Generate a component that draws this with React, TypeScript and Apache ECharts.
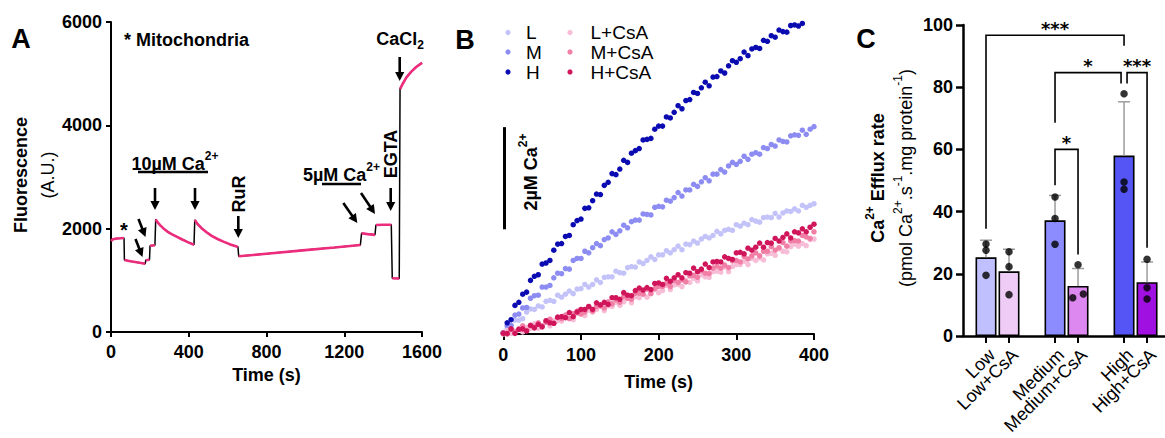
import React, { useEffect, useRef } from "react";
import * as echarts from "echarts";

const FONT = "'Liberation Sans', Arial, Helvetica, sans-serif";
const AST_FONT = "'DejaVu Sans', sans-serif";

// ---------------- Panel A : fluorescence trace ----------------
const A_TIME = [0, 10, 30, 50, 67, 69, 100, 140, 176, 179, 198, 201, 226, 230, 240, 255, 270, 290, 312, 340, 364, 395, 427, 431, 445, 466, 490, 518, 548, 578, 610, 646, 653, 657, 800, 1000, 1150, 1283, 1289, 1320, 1358, 1363, 1400, 1442, 1447, 1483, 1487, 1500, 1520, 1545, 1570, 1600];
const A_FLUOR = [1760, 1795, 1810, 1815, 1820, 1395, 1370, 1345, 1320, 1390, 1400, 1670, 1680, 2180, 2120, 2060, 2005, 1945, 1896, 1840, 1795, 1740, 1690, 2170, 2090, 2010, 1935, 1860, 1800, 1750, 1700, 1655, 1650, 1465, 1515, 1585, 1637, 1685, 1910, 1895, 1880, 2070, 2075, 2075, 1040, 1035, 4700, 4800, 4930, 5040, 5130, 5210];
// index i where the step i -> i+1 is an instantaneous jump (drawn black only)
const A_JUMPS = [4, 8, 10, 12, 22, 32, 37, 40, 43, 45];

// ---------------- Panel B : Ca2+ efflux scatter ----------------
const B_TIME = [0, 5, 10, 15, 20, 25, 30, 35, 40, 45, 50, 55, 60, 65, 70, 75, 80, 85, 90, 95, 100, 105, 110, 115, 120, 125, 130, 135, 140, 145, 150, 155, 160, 165, 170, 175, 180, 185, 190, 195, 200, 205, 210, 215, 220, 225, 230, 235, 240, 245, 250, 255, 260, 265, 270, 275, 280, 285, 290, 295, 300, 305, 310, 315, 320, 325, 330, 335, 340, 345, 350, 355, 360, 365, 370, 375, 380, 385, 390, 395, 400];
const B_L = [0.03, 0.10, 0.12, 0.27, 0.27, 0.30, 0.43, 0.49, 0.48, 0.55, 0.53, 0.64, 0.66, 0.64, 0.76, 0.72, 0.78, 0.84, 0.79, 0.88, 0.89, 0.97, 0.92, 0.97, 1.06, 1.01, 1.11, 1.12, 1.12, 1.23, 1.20, 1.19, 1.30, 1.32, 1.31, 1.41, 1.38, 1.44, 1.51, 1.46, 1.55, 1.55, 1.63, 1.59, 1.65, 1.72, 1.65, 1.76, 1.75, 1.82, 1.78, 1.86, 1.91, 1.88, 1.93, 2.01, 1.96, 2.03, 2.05, 2.03, 2.14, 2.11, 2.17, 2.14, 2.24, 2.21, 2.19, 2.28, 2.29, 2.28, 2.36, 2.29, 2.37, 2.41, 2.40, 2.45, 2.41, 2.52, 2.48, 2.52, 2.55];
const B_M = [0.01, 0.16, 0.17, 0.37, 0.39, 0.51, 0.52, 0.70, 0.75, 0.76, 0.92, 0.92, 0.95, 1.10, 1.19, 1.18, 1.28, 1.27, 1.44, 1.48, 1.48, 1.62, 1.59, 1.69, 1.77, 1.73, 1.85, 1.88, 2.00, 1.95, 2.02, 2.13, 2.08, 2.20, 2.23, 2.23, 2.35, 2.34, 2.33, 2.48, 2.50, 2.49, 2.62, 2.60, 2.67, 2.77, 2.70, 2.82, 2.82, 2.93, 2.89, 2.98, 3.06, 3.00, 3.13, 3.13, 3.22, 3.17, 3.29, 3.36, 3.32, 3.38, 3.48, 3.42, 3.52, 3.55, 3.52, 3.65, 3.63, 3.71, 3.68, 3.80, 3.77, 3.76, 3.88, 3.90, 3.89, 3.99, 3.91, 4.01, 4.06];
const B_H = [0.02, 0.22, 0.28, 0.56, 0.62, 0.78, 0.82, 1.05, 1.13, 1.16, 1.37, 1.39, 1.44, 1.64, 1.76, 1.77, 1.91, 1.93, 2.14, 2.22, 2.25, 2.46, 2.47, 2.61, 2.74, 2.73, 2.91, 2.97, 3.14, 3.12, 3.23, 3.40, 3.36, 3.54, 3.59, 3.63, 3.80, 3.81, 3.83, 4.01, 4.07, 4.07, 4.25, 4.23, 4.34, 4.47, 4.41, 4.57, 4.59, 4.73, 4.71, 4.82, 4.93, 4.86, 5.03, 5.04, 5.15, 5.11, 5.25, 5.35, 5.32, 5.39, 5.52, 5.45, 5.58, 5.61, 5.59, 5.75, 5.73, 5.84, 5.81, 5.95, 5.92, 5.91, 6.04, 6.05, 6.03, 6.08];
const B_LC = [0.00, 0.07, 0.01, 0.06, 0.11, 0.04, 0.12, 0.11, 0.20, 0.11, 0.15, 0.24, 0.16, 0.26, 0.26, 0.25, 0.35, 0.31, 0.28, 0.40, 0.40, 0.36, 0.47, 0.43, 0.48, 0.55, 0.46, 0.55, 0.54, 0.62, 0.56, 0.63, 0.70, 0.61, 0.73, 0.71, 0.78, 0.72, 0.81, 0.87, 0.81, 0.85, 0.95, 0.87, 0.96, 0.97, 0.93, 1.05, 1.01, 1.09, 1.04, 1.16, 1.12, 1.11, 1.22, 1.23, 1.21, 1.31, 1.22, 1.32, 1.36, 1.36, 1.42, 1.36, 1.48, 1.44, 1.49, 1.45, 1.57, 1.58, 1.54, 1.67, 1.62, 1.61, 1.71, 1.76, 1.72, 1.77, 1.73, 1.85, 1.86];
const B_MC = [0.02, 0.00, 0.09, 0.04, 0.09, 0.16, 0.07, 0.16, 0.14, 0.22, 0.16, 0.23, 0.29, 0.21, 0.32, 0.30, 0.37, 0.30, 0.40, 0.45, 0.39, 0.43, 0.53, 0.45, 0.54, 0.55, 0.51, 0.63, 0.59, 0.67, 0.62, 0.73, 0.70, 0.68, 0.80, 0.80, 0.78, 0.88, 0.79, 0.89, 0.93, 0.93, 0.99, 0.93, 1.05, 1.01, 1.06, 1.02, 1.14, 1.15, 1.11, 1.24, 1.19, 1.18, 1.29, 1.33, 1.29, 1.35, 1.30, 1.43, 1.44, 1.41, 1.52, 1.47, 1.53, 1.59, 1.53, 1.62, 1.62, 1.71, 1.64, 1.69, 1.79, 1.72, 1.82, 1.83, 1.82, 1.93, 1.90, 1.87, 2.00];
const B_HC = [0.01, 0.01, 0.10, 0.01, 0.09, 0.10, 0.06, 0.17, 0.12, 0.19, 0.14, 0.26, 0.22, 0.21, 0.33, 0.34, 0.32, 0.42, 0.34, 0.43, 0.48, 0.48, 0.54, 0.48, 0.61, 0.57, 0.62, 0.58, 0.71, 0.71, 0.68, 0.81, 0.76, 0.75, 0.85, 0.90, 0.86, 0.91, 0.87, 0.99, 1.00, 0.97, 1.09, 1.03, 1.10, 1.16, 1.10, 1.20, 1.19, 1.29, 1.22, 1.27, 1.37, 1.30, 1.41, 1.42, 1.41, 1.51, 1.48, 1.46, 1.59, 1.60, 1.57, 1.68, 1.64, 1.70, 1.78, 1.70, 1.79, 1.78, 1.87, 1.82, 1.89, 1.96, 1.88, 2.00, 1.98, 2.06, 2.00, 2.09, 2.15];
const B_NAMES = ["L", "M", "H", "L+CsA", "M+CsA", "H+CsA"];
const B_VALUES = [B_L, B_M, B_H, B_LC, B_MC, B_HC];
const B_COLORS = ["#C3C3FA", "#8C8CF2", "#0B0BB2", "#F8BDD6", "#F07EA5", "#D1155B"];
const B_SCALE = [2.05, 4.05]; // 2 µM scale bar, µM

// ---------------- Panel C : efflux rate bars ----------------
const C_CATEGORIES = ["Low", "Low+CsA", "Medium", "Medium+CsA", "High", "High+CsA"];
const C_POS = [1, 2, 4, 5, 7, 8];
const C_MEAN = [25.3, 20.8, 37.2, 16.1, 58.0, 17.3];
const C_SD = [5.5, 7.1, 8.0, 5.6, 17.3, 6.5];
const C_REPS = [
  [29.6, 27.6, 19.5],
  [27.1, 22.3, 13.3],
  [44.7, 37.8, 29.5],
  [22.9, 12.3, 13.5],
  [77.9, 49.5, 47.2],
  [24.7, 15.5, 11.9],
];
const C_JITTER = [
  [0, 0, 0],
  [0, 0, 0],
  [0, 0, 0],
  [0, -0.23, 0.23],
  [0, 0, 0],
  [0, 0, 0],
];
const C_COLORS = ["#C0C0FF", "#EECCF6", "#8C8CFF", "#DD88F0", "#5555F5", "#A010E0"];
// [x1, x2, yTop, yLeftEnd, yRightEnd]
const C_BRACKETS = [
  [1, 7, 96.7, 34.5, 93.3],
  [4, 6.87, 84.7, 68.6, 81.2],
  [7.13, 8, 84.7, 81.2, 28.4],
  [4, 5, 60, 48.5, 26.2],
];
const C_BRACKET_LABELS = ["***", "*", "***", "*"];

// ---------------- annotations (pixel layout) ----------------
const A_ARROWS = [
  [135.5, 239, 142.5, 257],
  [138.5, 219, 145.5, 237],
  [155, 188, 155, 210],
  [195, 188, 195, 210],
  [238.3, 216, 238.3, 238],
  [343.3, 203, 357.3, 223],
  [361, 193, 375, 214],
  [390.7, 188, 390.7, 211],
  [399.7, 57, 399.7, 81],
];

function arrow(a: number[]) {
  const [x1, y1, x2, y2] = a;
  const dx = x2 - x1, dy = y2 - y1;
  const len = Math.hypot(dx, dy);
  const ux = dx / len, uy = dy / len;
  const head = 9, half = 4.6;
  const bx = x2 - ux * head, by = y2 - uy * head;
  return [
    { type: "line", silent: true, shape: { x1, y1, x2: bx + ux * 1, y2: by + uy * 1 }, style: { stroke: "#000", lineWidth: 2.6 } },
    {
      type: "polygon", silent: true,
      shape: { points: [[x2, y2], [bx - uy * half, by + ux * half], [bx + uy * half, by - ux * half]] },
      style: { fill: "#000" },
    },
  ];
}

// main text bottom-aligned in a slightly taller line, superscript top-aligned
const supRich = (size: number, weight: string) => ({
  b: { fontSize: size, fontWeight: weight, fontFamily: FONT, fill: "#000", lineHeight: 23, verticalAlign: "bottom" },
  s: { fontSize: Math.round(size * 0.68), fontWeight: weight, fontFamily: FONT, fill: "#000", lineHeight: 12, verticalAlign: "top" },
});

function txt(x: number, y: number, text: string, size: number, weight = "bold", align = "center", extra: any = {}) {
  return {
    type: "text", silent: true, x, y, ...extra,
    style: { text, fontSize: size, fontWeight: weight, fontFamily: FONT, fill: "#000", align, verticalAlign: "middle" },
  };
}

function buildGraphics() {
  const g: any[] = [];
  // panel letters
  g.push(txt(21, 39, "A", 27));
  g.push(txt(465, 40, "B", 27));
  g.push(txt(866, 39, "C", 27));
  // Panel A annotations
  g.push(txt(124, 39.5, "* Mitochondria", 18, "bold", "left"));
  g.push(txt(124, 230, "*", 20));
  A_ARROWS.forEach((a) => g.push(...arrow(a)));
  g.push({
    type: "text", silent: true, x: 175, y: 161.5,
    style: { text: "{b|10µM Ca}{s|2+}", rich: supRich(18, "bold"), align: "center", verticalAlign: "middle" },
  });
  g.push({ type: "line", silent: true, shape: { x1: 138, y1: 172, x2: 208, y2: 172 }, style: { stroke: "#000", lineWidth: 2.5 } });
  g.push({
    type: "text", silent: true, x: 341.5, y: 172.5,
    style: { text: "{b|5µM Ca}{s|2+}", rich: supRich(18, "bold"), align: "center", verticalAlign: "middle" },
  });
  g.push({ type: "line", silent: true, shape: { x1: 322, y1: 184, x2: 361, y2: 184 }, style: { stroke: "#000", lineWidth: 2.5 } });
  g.push(txt(238.5, 194, "RuR", 18, "bold", "center", { rotation: Math.PI / 2 }));
  g.push(txt(391, 154, "EGTA", 18, "bold", "center", { rotation: Math.PI / 2 }));
  g.push({
    type: "text", silent: true, x: 400, y: 40,
    style: {
      text: "{b|CaCl}{d|2}",
      rich: {
        b: { fontSize: 18, fontWeight: "bold", fontFamily: FONT, fill: "#000", lineHeight: 21, verticalAlign: "top" },
        d: { fontSize: 12, fontWeight: "bold", fontFamily: FONT, fill: "#000", lineHeight: 12, verticalAlign: "bottom" },
      },
      align: "center", verticalAlign: "middle",
    },
  });
  g.push({
    type: "text", silent: true, x: 34, y: 175, rotation: Math.PI / 2,
    style: {
      text: "{b|Fluorescence}\n{n|(A.U.)}",
      rich: {
        b: { fontSize: 18, fontWeight: "bold", fontFamily: FONT, fill: "#000", lineHeight: 27 },
        n: { fontSize: 18, fontWeight: "normal", fontFamily: FONT, fill: "#000", lineHeight: 27 },
      },
      align: "center", verticalAlign: "middle",
    },
  });
  // Panel B legend
  const rowY = [32.5, 52, 72];
  B_NAMES.forEach((name, i) => {
    const col = i < 3 ? 0 : 1;
    const y = rowY[i % 3];
    g.push({ type: "circle", silent: true, shape: { cx: col ? 570 : 508, cy: y, r: 2.6 }, style: { fill: B_COLORS[i] } });
    g.push(txt(col ? 590.5 : 526, y, name, 19, "normal", "left"));
  });
  // Panel B scale label
  g.push({
    type: "text", silent: true, x: 528, y: 172, rotation: Math.PI / 2,
    style: { text: "{b|2µM Ca}{s|2+}", rich: supRich(18, "bold"), align: "center", verticalAlign: "middle" },
  });
  // Panel C y-axis title
  g.push({
    type: "text", silent: true, x: 891.5, y: 178, rotation: Math.PI / 2,
    style: {
      text: "{b|Ca}{bs|2+}{b| Efflux rate}\n{n|(pmol Ca}{ns|2+}{n|.s}{ns|-1}{n|.mg protein}{ns|-1}{n|)}",
      rich: {
        b: { fontSize: 18, fontWeight: "bold", fontFamily: FONT, fill: "#000", lineHeight: 28, verticalAlign: "middle" },
        bs: { fontSize: 12, fontWeight: "bold", fontFamily: FONT, fill: "#000", lineHeight: 12, verticalAlign: "top" },
        n: { fontSize: 18, fontWeight: "normal", fontFamily: FONT, fill: "#000", lineHeight: 28, verticalAlign: "middle" },
        ns: { fontSize: 12, fontWeight: "normal", fontFamily: FONT, fill: "#000", lineHeight: 12, verticalAlign: "top" },
      },
      align: "center", verticalAlign: "middle",
    },
  });
  return g;
}

const plain = (v: number) => String(v);
const TICK_LABEL = { color: "#000", fontSize: 18, fontWeight: "bold", fontFamily: FONT, formatter: plain };
const NAME_STYLE = { color: "#000", fontSize: 18, fontWeight: "bold", fontFamily: FONT };
const axisBase = (lw: number, tickLen: number) => ({
  axisLine: { show: true, onZero: false, lineStyle: { color: "#000", width: lw } },
  axisTick: { show: true, inside: false, length: tickLen, lineStyle: { color: "#000", width: lw } },
  splitLine: { show: false },
});

function buildOption(): any {
  const aFull = A_TIME.map((t, i) => [t, A_FLUOR[i]]);
  const aPink: any[] = [];
  A_TIME.forEach((t, i) => {
    aPink.push([t, A_FLUOR[i]]);
    if (A_JUMPS.includes(i)) aPink.push([t, "-"]);
  });

  const bSeries = B_NAMES.map((name, k) => ({
    type: "scatter",
    name,
    xAxisIndex: 1,
    yAxisIndex: 1,
    symbol: "circle",
    symbolSize: 5.5,
    itemStyle: { color: B_COLORS[k], opacity: 1 },
    data: B_VALUES[k].map((v, i) => [B_TIME[i], v]),
    silent: true,
    z: 2 + k,
    ...(k === 0
      ? {
          markLine: {
            silent: true,
            symbol: "none",
            label: { show: false },
            lineStyle: { color: "#000", width: 3, type: "solid" },
            data: [[{ coord: [1, B_SCALE[0]] }, { coord: [1, B_SCALE[1]] }]],
          },
        }
      : {}),
  }));

  const dots: number[][] = [];
  C_REPS.forEach((reps, i) => reps.forEach((v, k) => dots.push([C_POS[i] + C_JITTER[i][k], v])));

  return {
    animation: false,
    backgroundColor: "#fff",
    grid: [
      { left: 111, top: 22, width: 311, height: 310, containLabel: false, outerBoundsMode: "none" },
      { left: 503.3, top: 2, width: 310.7, height: 332, containLabel: false, outerBoundsMode: "none" },
      { left: 963, top: 25, width: 202, height: 311, containLabel: false, outerBoundsMode: "none" },
    ],
    xAxis: [
      {
        gridIndex: 0, type: "value", min: 0, max: 1600, interval: 400, ...axisBase(2, 5),
        axisLabel: { ...TICK_LABEL, margin: 11 },
        name: "Time (s)", nameLocation: "middle", nameGap: 34, nameTextStyle: NAME_STYLE,
      },
      {
        gridIndex: 1, type: "value", min: 0, max: 400, interval: 100, ...axisBase(2, 6),
        axisLabel: { ...TICK_LABEL, margin: 12 },
        name: "Time (s)", nameLocation: "middle", nameGap: 39, nameTextStyle: NAME_STYLE,
      },
      {
        gridIndex: 2, type: "value", min: 0, max: 8.78,
        axisLine: { show: true, onZero: false, lineStyle: { color: "#000", width: 2.5 } },
        axisTick: { show: true, length: 7, customValues: C_POS, lineStyle: { color: "#000", width: 2 } },
        splitLine: { show: false },
        axisLabel: { show: false },
      },
    ],
    yAxis: [
      {
        gridIndex: 0, type: "value", min: 0, max: 6000, interval: 2000, ...axisBase(2, 5),
        axisLabel: { ...TICK_LABEL, margin: 9 },
      },
      { gridIndex: 1, type: "value", min: 0, max: 6.5, show: false },
      {
        gridIndex: 2, type: "value", min: 0, max: 100, interval: 20, ...axisBase(2.5, 7),
        axisLabel: { ...TICK_LABEL, margin: 10 },
      },
    ],
    series: [
      {
        type: "line", xAxisIndex: 0, yAxisIndex: 0, data: aFull, symbol: "none", showSymbol: false,
        lineStyle: { color: "#000", width: 1.5 }, silent: true, z: 2,
      },
      {
        type: "line", xAxisIndex: 0, yAxisIndex: 0, data: aPink, symbol: "none", showSymbol: false,
        connectNulls: false, lineStyle: { color: "#EE2C7E", width: 2.6 }, silent: true, z: 3,
      },
      ...bSeries,
      {
        type: "bar", xAxisIndex: 2, yAxisIndex: 2, barWidth: 21, silent: true, z: 2,
        itemStyle: { borderColor: "#000", borderWidth: 1.6 },
        data: C_POS.map((x, i) => ({ value: [x, C_MEAN[i]], itemStyle: { color: C_COLORS[i], borderColor: "#000", borderWidth: 1.6 } })),
      },
      {
        type: "custom", xAxisIndex: 2, yAxisIndex: 2, silent: true, z: 3,
        encode: { x: 0, y: [1, 2] },
        data: C_POS.map((x, i) => [x, C_MEAN[i], C_MEAN[i] + C_SD[i]]),
        renderItem: (_p: any, api: any) => {
          const b = api.coord([api.value(0), api.value(1)]);
          const t = api.coord([api.value(0), api.value(2)]);
          return {
            type: "group",
            children: [
              { type: "line", shape: { x1: b[0], y1: b[1], x2: t[0], y2: t[1] }, style: { stroke: "#9C9C9C", lineWidth: 1.5 } },
              { type: "line", shape: { x1: t[0] - 6, y1: t[1], x2: t[0] + 6, y2: t[1] }, style: { stroke: "#9C9C9C", lineWidth: 1.5 } },
            ],
          };
        },
      },
      {
        type: "scatter", xAxisIndex: 2, yAxisIndex: 2, silent: true, z: 5,
        symbol: "circle", symbolSize: 7.5, itemStyle: { color: "#000" }, data: dots,
      },
      {
        type: "custom", xAxisIndex: 2, yAxisIndex: 2, silent: true, z: 6,
        encode: { x: [0, 1], y: [2, 3, 4] },
        data: C_BRACKETS,
        renderItem: (p: any, api: any) => {
          const x1 = api.value(0), x2 = api.value(1), yt = api.value(2), yl = api.value(3), yr = api.value(4);
          const pL = api.coord([x1, yl]);
          const pTL = api.coord([x1, yt]);
          const pTR = api.coord([x2, yt]);
          const pR = api.coord([x2, yr]);
          const label = C_BRACKET_LABELS[p.dataIndex];
          return {
            type: "group",
            children: [
              { type: "polyline", shape: { points: [pL, pTL, pTR, pR] }, style: { stroke: "#000", lineWidth: 1.6, fill: "none" } },
              {
                type: "text",
                x: (pTL[0] + pTR[0]) / 2,
                y: pTL[1] - 7,
                style: { text: label, fontSize: 18, fontFamily: AST_FONT, fontWeight: "bold", fill: "#000", align: "center", verticalAlign: "middle" },
              },
            ],
          };
        },
      },
      {
        // 45°-rotated category labels, anchored at each bar's tick
        type: "custom", xAxisIndex: 2, yAxisIndex: 2, silent: true, z: 6,
        encode: { x: 0, y: 1 },
        data: C_POS.map((x) => [x, 0]),
        renderItem: (p: any, api: any) => {
          const pt = api.coord([api.value(0), api.value(1)]);
          return {
            type: "text",
            x: pt[0] + 6,
            y: pt[1] + 16,
            rotation: Math.PI / 4,
            style: {
              text: C_CATEGORIES[p.dataIndex],
              fontSize: 18,
              fontFamily: FONT,
              fontWeight: "normal",
              fill: "#000",
              align: "right",
              verticalAlign: "middle",
            },
          };
        },
      },
    ],
    graphic: buildGraphics(),
  };
}

export default function App() {
  const ref = useRef<HTMLDivElement>(null);
  useEffect(() => {
    if (!ref.current) return;
    const chart = echarts.init(ref.current, undefined, { renderer: "svg" });
    chart.setOption(buildOption());
    return () => chart.dispose();
  }, []);
  return (
    <div
      ref={ref}
      style={{ position: "absolute", left: 0, top: 0, width: 1165, height: 438, background: "#fff" }}
    />
  );
}
